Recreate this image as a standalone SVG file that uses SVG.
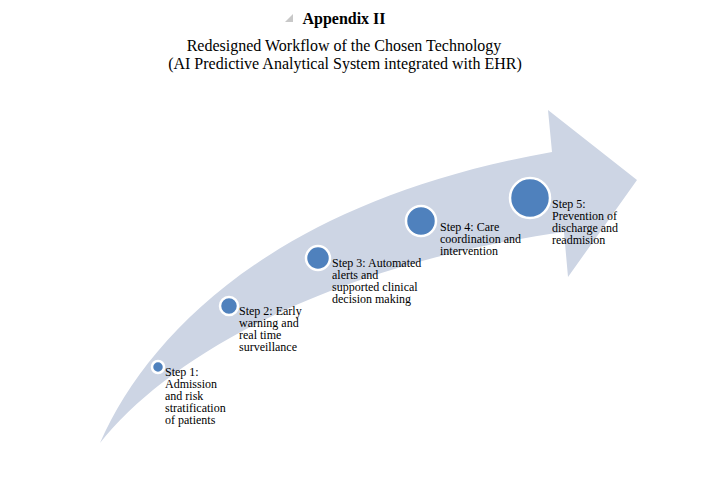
<svg xmlns="http://www.w3.org/2000/svg" width="721" height="482" viewBox="0 0 721 482">
<style>
.t{font-family:"Liberation Serif","Times New Roman",serif;fill:#000}
.h{font-size:16px;text-anchor:middle}
.s{font-size:12px}
.dot{fill:#4F81BD;stroke:#fff;stroke-width:2.5}
</style>
<rect width="721" height="482" fill="#fff"/>
<g id="title">
<polygon points="293,14 293,22 285,22" fill="#c8c8c8"/>
<text class="t h" x="344" y="24" font-weight="bold">Appendix II</text>
<text class="t h" x="344" y="51">Redesigned Workflow of the Chosen Technology</text>
<text class="t h" x="345" y="69">(AI Predictive Analytical System integrated with EHR)</text>
</g>
<g id="arrow">
<path d="M100,443 C150,330 280,200 552,152 L548,110 L637,180 L568,277 L564,232 C330,265 170,355 100,443 Z" fill="#CDD5E4"/>
</g>
<g id="step1">
<circle class="dot" cx="158" cy="367" r="6"/>
<text class="t s" x="165"><tspan x="165" y="376">Step 1:</tspan><tspan x="165" y="388">Admission</tspan><tspan x="165" y="400">and risk</tspan><tspan x="165" y="412">stratification</tspan><tspan x="165" y="424">of patients</tspan></text>
</g>
<g id="step2">
<circle class="dot" cx="229" cy="306" r="9"/>
<text class="t s"><tspan x="239" y="315">Step 2: Early</tspan><tspan x="239" y="327">warning and</tspan><tspan x="239" y="339">real time</tspan><tspan x="239" y="351">surveillance</tspan></text>
</g>
<g id="step3">
<circle class="dot" cx="318" cy="258" r="12"/>
<text class="t s"><tspan x="332" y="267">Step 3: Automated</tspan><tspan x="332" y="279">alerts and</tspan><tspan x="332" y="291">supported clinical</tspan><tspan x="332" y="303">decision making</tspan></text>
</g>
<g id="step4">
<circle class="dot" cx="421" cy="221" r="15"/>
<text class="t s"><tspan x="440" y="231">Step 4: Care</tspan><tspan x="440" y="243">coordination and</tspan><tspan x="440" y="255">intervention</tspan></text>
</g>
<g id="step5">
<circle class="dot" cx="530" cy="198" r="20"/>
<text class="t s"><tspan x="552" y="208">Step 5:</tspan><tspan x="552" y="220">Prevention of</tspan><tspan x="552" y="232">discharge and</tspan><tspan x="552" y="244">readmision</tspan></text>
</g>
<g id="connectors"></g>
</svg>
